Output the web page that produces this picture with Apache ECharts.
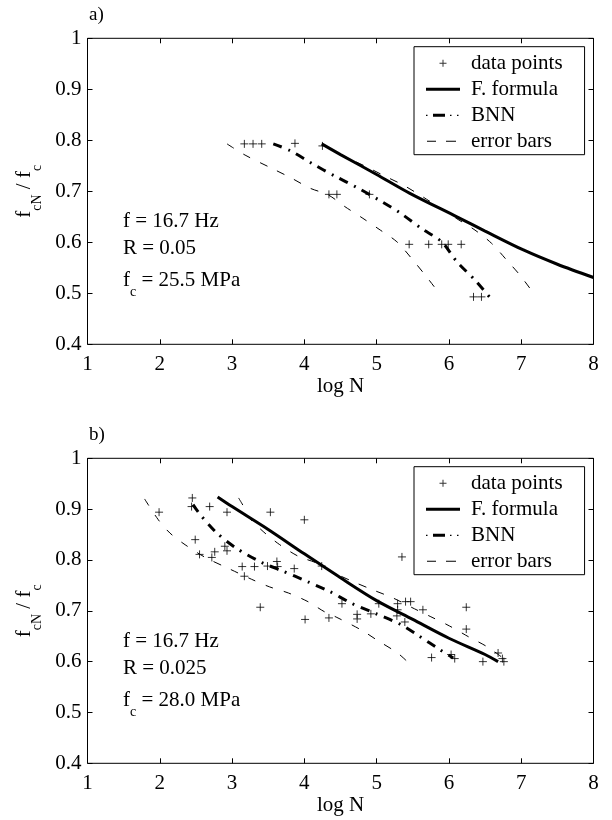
<!DOCTYPE html>
<html><head><meta charset="utf-8">
<script src="https://cdn.jsdelivr.net/npm/echarts@6/dist/echarts.min.js"></script>
<style>html,body{margin:0;padding:0;background:#fff}#c{width:612px;height:820px}</style>
</head><body><div id="c"></div>
<script>
// ---- axes ----
const xMin = 1, xMax = 8, xStep = 1;
const yMin = 0.4, yMax = 1.0, yStep = 0.1;
const seriesNames = ['data points', 'F. formula', 'BNN', 'error bars'];

// ---- panel a) ----
const aPtsX = [3.17,3.29,3.41,3.87,4.25,4.34,4.45,4.90,5.45,5.72,5.90,5.99,6.17,6.34,6.45];
const aPtsY = [0.793,0.793,0.793,0.794,0.789,0.694,0.694,0.694,0.596,0.596,0.596,0.596,0.596,0.493,0.493];
const aFX = [4.24,4.5,5.0,5.46,6.11,6.5,7.03,7.5,8.0];
const aFY = [0.793,0.772,0.733,0.696,0.650,0.622,0.585,0.557,0.531];
const aBX = [3.57,3.80,4.10,4.42,4.72,5.02,5.32,5.62,5.90,6.11,6.36,6.56];
const aBY = [0.793,0.780,0.755,0.730,0.708,0.684,0.658,0.627,0.601,0.562,0.526,0.493];
const aLoX = [2.93,3.18,3.55,3.82,4.08,4.33,4.56,4.81,5.05,5.28,5.48,5.67,5.85];
const aLoY = [0.793,0.771,0.745,0.726,0.706,0.693,0.670,0.647,0.624,0.601,0.569,0.536,0.503];
const aHiX = [4.25,4.52,4.86,5.11,5.37,5.64,5.88,6.10,6.36,6.59,6.80,6.98,7.14];
const aHiY = [0.792,0.771,0.748,0.730,0.712,0.689,0.667,0.647,0.624,0.598,0.565,0.536,0.506];
const aText = ['f = 16.7 Hz', 'R = 0.05', '25.5 MPa'];

// ---- panel b) ----
const bPtsX = [1.99,2.45,2.44,2.69,2.93,3.53,4.00,2.49,2.55,2.72,2.76,2.90,2.93,3.14,3.17,3.31,3.49,3.62,3.63,3.86,4.24,3.39,4.01,4.34,4.52,4.73,4.73,4.92,5.03,5.29,5.29,5.28,5.39,5.40,5.47,5.35,5.64,6.24,6.24,5.76,6.03,6.08,6.47,6.68,6.74,6.76];
const bPtsY = [0.894,0.922,0.905,0.905,0.894,0.894,0.879,0.840,0.811,0.805,0.816,0.827,0.818,0.787,0.768,0.787,0.788,0.797,0.787,0.783,0.788,0.707,0.683,0.686,0.714,0.693,0.684,0.694,0.714,0.714,0.702,0.690,0.678,0.718,0.718,0.806,0.702,0.707,0.664,0.608,0.614,0.606,0.600,0.617,0.606,0.600];
const bFX = [2.80,3.0,3.5,4.0,4.5,5.0,5.5,6.0,6.5,6.68];
const bFY = [0.924,0.905,0.860,0.812,0.765,0.720,0.683,0.646,0.614,0.600];
const bBX = [2.46,2.56,2.79,3.06,3.41,3.69,4.05,4.35,4.65,4.98,5.32,5.58,5.88,6.06];
const bBY = [0.909,0.889,0.853,0.823,0.795,0.779,0.757,0.738,0.715,0.695,0.674,0.651,0.623,0.607];
const bLoX = [1.79,1.98,2.14,2.35,2.63,2.97,3.27,3.52,3.78,4.05,4.28,4.45,4.79,5.02,5.28,5.41];
const bLoY = [0.920,0.879,0.853,0.830,0.805,0.782,0.762,0.747,0.735,0.718,0.698,0.687,0.662,0.641,0.618,0.602];
const bHiX = [3.09,3.16,3.22,3.43,3.66,3.92,4.17,4.42,4.68,4.95,5.23,5.48,5.74,6.01,6.27,6.52,6.75];
const bHiY = [0.922,0.905,0.886,0.856,0.830,0.807,0.794,0.774,0.757,0.741,0.725,0.707,0.689,0.670,0.649,0.630,0.607];
const bText = ['f = 16.7 Hz', 'R = 0.025', '28.0 MPa'];

const FONT = 'Liberation Serif';
const FS = 21;
const zip = (xs, ys) => xs.map((x, i) => [x, ys[i]]);
const plus = 'path://M0,5L10,5M5,0L5,10';

// legend icons (34 x 14 box; tiny corner squares fix the bounding box)
const box = 'M0,0h0.01v0.01h-0.01z M33.99,13.99h0.01v0.01h-0.01z ';
const legendIcons = {
  'data points': 'path://' + box + 'M16.5,3.5h1v7h-1z M13.5,6.5h7v1h-7z',
  'F. formula': 'path://' + box + 'M0,5.5H34V8.5H0z',
  'BNN': 'path://' + box + 'M0,6.5h1.5v1.2h-1.5z M7,5.5H19V8.5H7z M24,6.5h1.5v1.2h-1.5z M31,6.5h1.5v1.2h-1.5z',
  'error bars': 'path://' + box + 'M1,6.5H10V7.5H1z M20,6.5H30V7.5H20z'
};

const grids = [
  {left: 87.5, top: 38.3, width: 506, height: 306},
  {left: 87.5, top: 458.3, width: 506, height: 305}
];
const panels = [
  {pts: [aPtsX, aPtsY], f: [aFX, aFY], b: [aBX, aBY], lo: [aLoX, aLoY], hi: [aHiX, aHiY], text: aText},
  {pts: [bPtsX, bPtsY], f: [bFX, bFY], b: [bBX, bBY], lo: [bLoX, bLoY], hi: [bHiX, bHiY], text: bText}
];

// subscript: main tokens top-aligned, subscript bottom-aligned in a line of height L
const subRich = (L) => ({
  a: {fontFamily: FONT, fontSize: FS, lineHeight: 24, verticalAlign: 'top', color: '#000', fill: '#000'},
  s: {fontFamily: FONT, fontSize: 14, lineHeight: L, verticalAlign: 'bottom', color: '#000', fill: '#000'}
});

const xAxes = [], yAxes = [], series = [], legends = [], graphics = [];
grids.forEach((g, gi) => {
  const tickCommon = {show: true, inside: true, length: 5, lineStyle: {color: '#000', width: 1}};
  xAxes.push({type: 'value', gridIndex: gi, min: xMin, max: xMax, interval: xStep, position: 'bottom',
    axisLine: {show: false}, axisTick: tickCommon, splitLine: {show: false},
    axisLabel: {color: '#000', fontFamily: FONT, fontSize: FS, margin: 10},
    name: 'log N', nameLocation: 'middle', nameGap: 31,
    nameTextStyle: {color: '#000', fontFamily: FONT, fontSize: FS}});
  xAxes.push({type: 'value', gridIndex: gi, min: xMin, max: xMax, interval: xStep, position: 'top',
    axisLine: {show: false}, axisTick: tickCommon, splitLine: {show: false}, axisLabel: {show: false}});
  yAxes.push({type: 'value', gridIndex: gi, min: yMin, max: yMax, interval: yStep, position: 'left',
    axisLine: {show: false}, axisTick: tickCommon, splitLine: {show: false},
    axisLabel: {color: '#000', fontFamily: FONT, fontSize: FS, margin: 6,
      formatter: v => String(Math.round(v * 10) / 10)},
    name: '{a|f}{s|cN}{a| / f}{s|c}', nameLocation: 'middle', nameGap: 39.5, nameRotate: 90,
    nameTextStyle: {color: '#000', fontFamily: FONT, fontSize: FS, rich: subRich(30)}});
  yAxes.push({type: 'value', gridIndex: gi, min: yMin, max: yMax, interval: yStep, position: 'right',
    axisLine: {show: false}, axisTick: tickCommon, splitLine: {show: false}, axisLabel: {show: false}});

  const p = panels[gi];
  const xi = gi * 2, yi = gi * 2;
  series.push({name: 'data points', type: 'scatter', xAxisIndex: xi, yAxisIndex: yi,
    data: zip(p.pts[0], p.pts[1]), symbol: plus, symbolSize: 8,
    itemStyle: {color: 'none', borderColor: '#000', borderWidth: 1}, z: 5});
  series.push({name: 'F. formula', type: 'line', xAxisIndex: xi, yAxisIndex: yi,
    data: zip(p.f[0], p.f[1]), symbol: 'none', smooth: 0.3, itemStyle: {color: '#000'},
    lineStyle: {color: '#000', width: 3}, z: 4});
  series.push({name: 'BNN', type: 'line', xAxisIndex: xi, yAxisIndex: yi,
    data: zip(p.b[0], p.b[1]), symbol: 'none', smooth: 0.3, itemStyle: {color: '#000'},
    lineStyle: {color: '#000', width: 3, type: [9, 7, 2, 7]}, z: 3});
  series.push({name: 'error bars', type: 'line', xAxisIndex: xi, yAxisIndex: yi,
    data: zip(p.lo[0], p.lo[1]), symbol: 'none', smooth: 0.3, itemStyle: {color: '#000'},
    lineStyle: {color: '#000', width: 1, type: [8, 11]}, z: 2});
  series.push({name: 'error bars', type: 'line', xAxisIndex: xi, yAxisIndex: yi,
    data: zip(p.hi[0], p.hi[1]), symbol: 'none', smooth: 0.3, itemStyle: {color: '#000'},
    lineStyle: {color: '#000', width: 1, type: [8, 11]}, z: 2});

  legends.push({orient: 'vertical', left: 414, top: g.top + 8.4,
    data: seriesNames.map(n => ({name: n, icon: legendIcons[n]})),
    borderColor: '#000', borderWidth: 1, backgroundColor: '#fff', padding: [6, 22, 3, 12],
    itemGap: 5, itemWidth: 34, itemHeight: 14, selectedMode: false,
    itemStyle: {color: '#000', borderWidth: 0}, lineStyle: {width: 0},
    textStyle: {color: '#000', fontFamily: FONT, fontSize: FS, lineHeight: 20, padding: [0, 0, 0, 6]}});

  const ty = g.top + 183.4;
  graphics.push({type: 'text', x: 123, y: ty,
    style: {text: p.text[0], fill: '#000', font: FS + 'px "' + FONT + '"', verticalAlign: 'middle'}});
  graphics.push({type: 'text', x: 123, y: ty + 26.6,
    style: {text: p.text[1], fill: '#000', font: FS + 'px "' + FONT + '"', verticalAlign: 'middle'}});
  graphics.push({type: 'text', x: 123, y: ty + 48,
    style: {text: '{a|f}{s|c}{a| = ' + p.text[2] + '}', fill: '#000', verticalAlign: 'top', rich: subRich(30)}});
  graphics.push({type: 'text', x: 89, y: g.top - 23,
    style: {text: gi === 0 ? 'a)' : 'b)', fill: '#000', font: '19px "' + FONT + '"', verticalAlign: 'middle'}});
});

const chart = echarts.init(document.getElementById('c'), null, {renderer: 'canvas'});
chart.setOption({
  backgroundColor: '#fff',
  animation: false,
  grid: grids.map(g => Object.assign({show: true, borderColor: '#000', borderWidth: 1, backgroundColor: 'transparent',
    containLabel: false, outerBoundsMode: 'none'}, g)),
  xAxis: xAxes, yAxis: yAxes, series: series, legend: legends, graphic: graphics
});
</script>
</body></html>
